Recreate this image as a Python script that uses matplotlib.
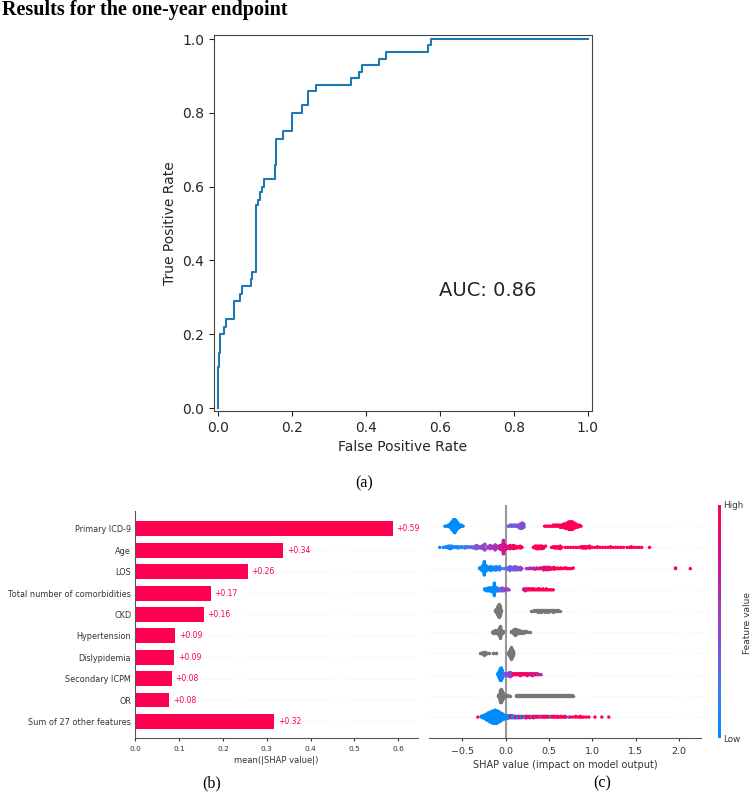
import numpy as np
import matplotlib
matplotlib.use('Agg')
import matplotlib.pyplot as plt
from matplotlib.colors import LinearSegmentedColormap
from matplotlib.cm import ScalarMappable

plt.rcParams['font.family'] = ['DejaVu Sans']
plt.rcParams['text.color'] = '#262626'
plt.rcParams['axes.labelcolor'] = '#262626'
plt.rcParams['xtick.color'] = '#262626'
plt.rcParams['ytick.color'] = '#262626'

# ---- (a) ROC curve (corner points, step 'post')
roc_fpr = [0.0, 0.0, 0.002, 0.005, 0.014, 0.020, 0.043, 0.059, 0.064, 0.088, 0.092,
           0.102, 0.108, 0.112, 0.118, 0.124, 0.153, 0.155, 0.175, 0.200, 0.225,
           0.243, 0.264, 0.360, 0.380, 0.390, 0.435, 0.455, 0.568, 0.575, 1.0]
roc_tpr = [0.0, 0.11, 0.15, 0.20, 0.22, 0.24, 0.29, 0.31, 0.33, 0.35, 0.37,
           0.55, 0.565, 0.585, 0.60, 0.62, 0.66, 0.73, 0.75, 0.80, 0.82,
           0.86, 0.875, 0.895, 0.91, 0.93, 0.945, 0.965, 0.985, 1.0, 1.0]
auc_value = 0.86

# ---- (b) mean |SHAP| per feature
features = ['Primary ICD-9', 'Age', 'LOS', 'Total number of comorbidities', 'CKD',
            'Hypertension', 'Dislypidemia', 'Secondary ICPM', 'OR',
            'Sum of 27 other features']
mean_abs_shap = [0.587, 0.338, 0.256, 0.172, 0.156, 0.091, 0.089, 0.083, 0.077, 0.317]

# ---- (c) beeswarm: (shap value, number of points, feature value 0..1 or None=grey)
swarm_primary_icd9 = [
    (-0.70, 1, 0), (-0.68, 1, 0), (-0.66, 2, 0), (-0.64, 4, 0), (-0.62, 8, 0), (-0.60, 12, 0),
    (-0.585, 13, 0), (-0.57, 10, 0), (-0.55, 6, 0), (-0.53, 3, 0), (-0.51, 2, 0), (-0.49, 1, 0),
    (0.03, 1, 0.35), (0.05, 2, 0.35), (0.07, 2, 0.35), (0.09, 2, 0.35), (0.11, 2, 0.35),
    (0.13, 2, 0.4), (0.15, 3, 0.4), (0.17, 5, 0.4), (0.19, 6, 0.4), (0.21, 4, 0.4),
    (0.45, 1, 1), (0.47, 1, 1), (0.49, 1, 1), (0.51, 1, 1), (0.53, 1, 0.95), (0.55, 2, 1),
    (0.57, 2, 1), (0.59, 2, 1), (0.61, 2, 1), (0.63, 3, 1), (0.65, 3, 1), (0.67, 4, 1),
    (0.69, 5, 1), (0.71, 6, 1), (0.73, 8, 1), (0.75, 8, 1), (0.77, 8, 1), (0.79, 6, 1),
    (0.81, 4, 1), (0.83, 3, 1), (0.85, 2, 1), (0.87, 1, 1)]
swarm_age = [
    (-0.76, 1, 0.05), (-0.72, 1, 0.05), (-0.69, 2, 0.05), (-0.66, 4, 0.05), (-0.64, 5, 0.08),
    (-0.62, 4, 0.08), (-0.59, 2, 0.1), (-0.57, 2, 0.1), (-0.55, 3, 0.12), (-0.52, 2, 0.15),
    (-0.50, 2, 0.15), (-0.47, 3, 0.2), (-0.45, 2, 0.2), (-0.43, 2, 0.25), (-0.40, 2, 0.3),
    (-0.37, 3, 0.35), (-0.34, 6, 0.4), (-0.32, 4, 0.4), (-0.29, 3, 0.45), (-0.26, 6, 0.45),
    (-0.24, 4, 0.5), (-0.21, 3, 0.5), (-0.18, 6, 0.55), (-0.16, 4, 0.55), (-0.14, 3, 0.6),
    (-0.12, 6, 0.6), (-0.10, 4, 0.6), (-0.08, 4, 0.65), (-0.06, 7, 0.7), (-0.04, 9, 0.75),
    (-0.025, 13, 0.75), (-0.01, 9, 0.8), (0.01, 5, 0.85), (0.03, 3, 0.85), (0.05, 3, 0.9),
    (0.07, 4, 0.9), (0.09, 6, 0.9), (0.11, 4, 0.95), (0.13, 3, 0.95), (0.15, 2, 1),
    (0.17, 2, 1), (0.19, 1, 1),
    (0.32, 1, 1), (0.34, 3, 1), (0.36, 5, 1), (0.38, 5, 1), (0.40, 4, 1), (0.42, 5, 1),
    (0.44, 3, 1), (0.46, 1, 1),
    (0.53, 1, 1), (0.55, 2, 1), (0.57, 3, 1), (0.59, 3, 1), (0.61, 3, 1), (0.63, 2, 1),
    (0.65, 1, 1), (0.69, 1, 1), (0.72, 1, 1), (0.75, 1, 1), (0.78, 1, 1), (0.81, 1, 1),
    (0.84, 1, 1), (0.87, 2, 1), (0.89, 3, 1), (0.91, 3, 1), (0.93, 3, 1), (0.95, 2, 1),
    (0.97, 2, 1), (1.00, 1, 1), (1.03, 1, 1), (1.06, 2, 1), (1.09, 1, 1), (1.12, 1, 1),
    (1.15, 1, 1), (1.18, 1, 1), (1.21, 2, 1), (1.24, 1, 1), (1.27, 1, 1), (1.30, 1, 1),
    (1.33, 1, 1), (1.36, 1, 1), (1.40, 1, 1), (1.43, 1, 1), (1.45, 2, 1), (1.48, 1, 1),
    (1.51, 1, 1), (1.54, 1, 1), (1.57, 1, 1), (1.66, 1, 1)]
swarm_los = [
    (-0.30, 2, 0), (-0.28, 5, 0), (-0.26, 10, 0), (-0.245, 12, 0), (-0.23, 10, 0),
    (-0.21, 6, 0), (-0.19, 4, 0), (-0.17, 3, 0), (-0.15, 4, 0.05), (-0.13, 5, 0.05),
    (-0.11, 6, 0.05), (-0.09, 4, 0.1), (-0.07, 2, 0.1), (-0.05, 1, 0.15), (-0.02, 1, 0.2),
    (0.01, 2, 0.3), (0.03, 3, 0.3), (0.05, 4, 0.3), (0.07, 4, 0.35), (0.09, 5, 0.35),
    (0.11, 6, 0.35), (0.13, 5, 0.4), (0.15, 3, 0.4), (0.17, 2, 0.45), (0.19, 1, 0.5),
    (0.24, 1, 0.55), (0.26, 1, 0.6), (0.28, 2, 0.6), (0.30, 1, 0.65), (0.32, 2, 0.65),
    (0.34, 1, 0.7), (0.36, 2, 0.7), (0.38, 1, 0.75), (0.40, 2, 0.75), (0.42, 2, 0.8),
    (0.44, 3, 0.85), (0.46, 4, 0.9), (0.48, 5, 0.9), (0.50, 4, 0.9), (0.52, 3, 0.95),
    (0.54, 2, 0.95), (0.56, 2, 1), (0.58, 1, 1), (0.60, 2, 1), (0.62, 1, 1), (0.64, 2, 1),
    (0.66, 1, 1), (0.68, 1, 1), (0.70, 2, 1), (0.72, 1, 1), (0.74, 1, 1), (0.76, 1, 1),
    (0.78, 1, 1), (1.96, 2, 1), (2.13, 1, 1)]
swarm_comorbidities = [
    (-0.24, 2, 0), (-0.22, 3, 0), (-0.20, 4, 0), (-0.18, 4, 0), (-0.16, 5, 0), (-0.14, 6, 0),
    (-0.13, 14, 0), (-0.12, 6, 0), (-0.10, 4, 0), (-0.08, 3, 0.05), (-0.06, 3, 0.3),
    (-0.04, 4, 0.4), (-0.02, 3, 0.45), (0.00, 2, 0.5), (0.02, 2, 0.5), (0.04, 1, 0.5),
    (0.21, 2, 0.8), (0.23, 3, 0.85), (0.25, 2, 0.85), (0.27, 2, 0.9), (0.29, 2, 0.9),
    (0.31, 2, 0.95), (0.33, 2, 0.95), (0.35, 1, 1), (0.37, 2, 1), (0.39, 2, 1), (0.41, 1, 1),
    (0.43, 2, 1), (0.45, 1, 1), (0.47, 2, 1), (0.49, 1, 1), (0.51, 1, 1), (0.53, 1, 1),
    (0.55, 1, 1)]
swarm_ckd = [
    (-0.12, 2, None), (-0.11, 4, None), (-0.10, 8, None), (-0.09, 12, None), (-0.08, 14, None),
    (-0.07, 10, None), (-0.06, 5, None), (-0.05, 2, None),
    (0.29, 1, None), (0.31, 1, None), (0.33, 2, None), (0.35, 2, None), (0.37, 3, None),
    (0.39, 2, None), (0.41, 3, None), (0.43, 2, None), (0.45, 3, None), (0.47, 2, None),
    (0.49, 3, None), (0.51, 2, None), (0.53, 2, None), (0.55, 3, None), (0.57, 2, None),
    (0.59, 2, None), (0.61, 2, None), (0.63, 1, None)]
swarm_hypertension = [
    (-0.16, 1, None), (-0.14, 3, None), (-0.12, 4, None), (-0.10, 4, None), (-0.09, 5, None),
    (-0.08, 8, None), (-0.07, 14, None), (-0.06, 12, None), (-0.05, 5, None), (-0.04, 3, None),
    (-0.03, 2, None),
    (0.06, 2, None), (0.08, 4, None), (0.10, 6, None), (0.11, 7, None), (0.12, 6, None),
    (0.14, 4, None), (0.16, 4, None), (0.18, 3, None), (0.20, 3, None), (0.22, 2, None),
    (0.24, 2, None), (0.26, 1, None), (0.28, 1, None)]
swarm_dislypidemia = [
    (-0.30, 1, None), (-0.28, 2, None), (-0.26, 4, None), (-0.25, 5, None), (-0.24, 4, None),
    (-0.22, 2, None), (-0.19, 1, None), (-0.15, 2, None), (-0.11, 2, None),
    (0.03, 3, None), (0.04, 6, None), (0.05, 10, None), (0.06, 14, None), (0.07, 10, None),
    (0.08, 6, None), (0.09, 3, None)]
swarm_secondary_icpm = [
    (-0.09, 2, 0), (-0.08, 5, 0), (-0.07, 9, 0), (-0.06, 13, 0), (-0.05, 14, 0), (-0.04, 10, 0),
    (-0.03, 5, 0), (-0.02, 3, 0.3), (-0.01, 2, 0.35), (0.00, 2, 0.4), (0.01, 3, 0.4),
    (0.02, 3, 0.4), (0.03, 3, 0.45), (0.04, 4, 0.45), (0.05, 5, 0.45), (0.06, 5, 0.5),
    (0.07, 3, 0.5),
    (0.09, 2, 0.9), (0.11, 2, 1), (0.13, 2, 0.9), (0.15, 2, 1), (0.17, 3, 1), (0.19, 2, 0.9),
    (0.21, 2, 1), (0.23, 2, 0.8), (0.25, 3, 1), (0.27, 2, 0.7), (0.29, 2, 1), (0.31, 3, 0.9),
    (0.33, 2, 0.6), (0.35, 2, 1), (0.37, 2, 0.6), (0.39, 1, 0.7), (0.41, 1, 0.6)]
swarm_or = [
    (-0.09, 2, None), (-0.08, 5, None), (-0.07, 9, None), (-0.06, 13, None), (-0.05, 14, None),
    (-0.04, 10, None), (-0.03, 6, None), (-0.02, 3, None), (-0.01, 2, None), (0.01, 2, None),
    (0.03, 2, None), (0.05, 1, None),
    (0.12, 2, None), (0.14, 2, None), (0.16, 2, None), (0.18, 2, None), (0.20, 2, None),
    (0.22, 2, None), (0.24, 2, None), (0.26, 2, None), (0.28, 2, None), (0.30, 2, None),
    (0.32, 2, None), (0.34, 2, None), (0.36, 2, None), (0.38, 2, None), (0.40, 2, None),
    (0.42, 2, None), (0.44, 2, None), (0.46, 2, None), (0.48, 2, None), (0.50, 2, None),
    (0.52, 2, None), (0.54, 2, None), (0.56, 2, None), (0.58, 2, None), (0.60, 2, None),
    (0.62, 2, None), (0.64, 2, None), (0.66, 2, None), (0.68, 2, None), (0.70, 2, None),
    (0.72, 2, None), (0.74, 2, None), (0.76, 2, None), (0.78, 1, None)]
swarm_other27 = [
    (-0.32, 1, 1), (-0.28, 2, 0), (-0.26, 4, 0), (-0.24, 6, 0), (-0.22, 9, 0), (-0.20, 12, 0),
    (-0.18, 15, 0), (-0.16, 17, 0), (-0.14, 19, 0), (-0.12, 20, 0), (-0.10, 19, 0),
    (-0.08, 16, 0), (-0.06, 13, 0), (-0.04, 10, 0), (-0.02, 7, 0), (0.00, 5, 0),
    (0.02, 5, 0), (0.04, 4, 0.05), (0.06, 4, 1), (0.08, 4, 0), (0.10, 3, 0.1), (0.12, 3, 1),
    (0.14, 3, 0), (0.16, 3, 0.9), (0.18, 3, 0), (0.20, 2, 1), (0.22, 3, 0.2), (0.24, 3, 1),
    (0.26, 2, 0.85), (0.28, 3, 1), (0.30, 2, 0.1), (0.32, 3, 1), (0.34, 2, 0.8), (0.36, 2, 1),
    (0.38, 2, 1), (0.40, 2, 0.4), (0.42, 2, 1), (0.44, 2, 1), (0.46, 2, 0.9), (0.48, 2, 1),
    (0.50, 2, 1), (0.52, 2, 0.2), (0.54, 2, 1), (0.56, 2, 1), (0.58, 1, 1), (0.60, 2, 1),
    (0.62, 1, 0.9), (0.64, 2, 1), (0.66, 1, 1), (0.68, 2, 1), (0.70, 1, 1), (0.73, 1, 0),
    (0.75, 1, 1), (0.78, 1, 1), (0.81, 2, 1), (0.84, 1, 1), (0.86, 2, 1), (0.88, 1, 1),
    (0.90, 1, 1), (0.93, 1, 1), (0.96, 1, 1), (1.03, 1, 1), (1.11, 1, 1), (1.19, 1, 1)]

swarm_rows = [swarm_primary_icd9, swarm_age, swarm_los, swarm_comorbidities, swarm_ckd,
              swarm_hypertension, swarm_dislypidemia, swarm_secondary_icpm, swarm_or,
              swarm_other27]

shap_red = '#ff0051'
shap_cmap = LinearSegmentedColormap.from_list(
    'red_blue', [(0.0, '#008bfb'), (0.2, '#3c7ff0'), (0.4, '#8050d8'),
                 (0.55, '#a03cc0'), (0.72, '#c81898'), (1.0, '#ff0052')])


def swarm_offsets(x, row_height=0.4, nbins=100):
    # same stacking as the shap beeswarm
    quant = np.round(nbins * (x - x.min()) / (x.max() - x.min() + 1e-8))
    order = np.argsort(quant, kind='stable')
    ys = np.zeros(len(x))
    layer, last = 0, -1
    for i in order:
        if quant[i] != last:
            layer = 0
        ys[i] = np.ceil(layer / 2) * ((layer % 2) * 2 - 1)
        layer += 1
        last = quant[i]
    return ys * 0.9 * (row_height / np.max(ys + 1))


W, H = 750, 793
fig = plt.figure(figsize=(W / 100, H / 100), dpi=100)
fig.set_facecolor('w')

def box(left, top, right, bottom):
    return [left / W, 1 - bottom / H, (right - left) / W, (bottom - top) / H]

fig.text(0.002, 1 - 15.5 / H, 'Results for the one-year endpoint', family='Liberation Serif',
         fontweight='bold', fontsize=14.5, color='k', va='baseline', ha='left')

# ---- ROC
ax_roc = fig.add_axes(box(214, 35, 591.7, 411))
ax_roc.step(roc_fpr, roc_tpr, where='post', color='#1f77b4', lw=1.5)
ax_roc.set_xlim(-0.012, 1.011)
ax_roc.set_ylim(-0.008, 1.011)
ax_roc.set_xticks(np.arange(0, 1.01, 0.2))
ax_roc.set_yticks(np.arange(0, 1.01, 0.2))
ax_roc.tick_params(labelsize=10)
ax_roc.set_xlabel('False Positive Rate', fontsize=10)
ax_roc.set_ylabel('True Positive Rate', fontsize=10)
for sp in ax_roc.spines.values():
    sp.set_color('#444444')
ax_roc.text(0.598, 0.318, 'AUC: %.2f' % auc_value, fontsize=14, va='center', ha='left')
fig.text(364 / W, 1 - 483 / H, '(a)', family='Liberation Serif', fontsize=11.5,
         ha='center', va='center', color='k')

# ---- bar chart
ax_bar = fig.add_axes(box(135.3, 510.7, 418, 738.3))
ypos = np.arange(len(features))[::-1]
ax_bar.barh(ypos, mean_abs_shap, height=0.7, color=shap_red)
for y, v in zip(ypos, mean_abs_shap):
    ax_bar.axhline(y, color='#cccccc', lw=0.5, dashes=(1, 5), zorder=-1)
    ax_bar.text(v + 0.009, y, '+%.2f' % v, color=shap_red, fontsize=5.5, va='center', ha='left')
ax_bar.set_yticks(ypos)
ax_bar.set_yticklabels(features, fontsize=5.9, color='#333333')
ax_bar.set_ylim(-0.79, 9.85)
ax_bar.set_xlim(0, 0.645)
ax_bar.set_xticks(np.arange(0, 0.61, 0.1))
ax_bar.tick_params(axis='x', labelsize=5.3, colors='#333333', length=2)
ax_bar.tick_params(axis='y', length=0, pad=3)
ax_bar.set_xlabel('mean(|SHAP value|)', fontsize=6, color='#333333', labelpad=3)
ax_bar.spines['top'].set_visible(False)
ax_bar.spines['right'].set_visible(False)
ax_bar.spines['left'].set_color('#555555')
ax_bar.spines['bottom'].set_color('#555555')
fig.text(212 / W, 1 - 783 / H, '(b)', family='Liberation Serif', fontsize=11.5,
         ha='center', va='center', color='k')

# ---- beeswarm
ax_sw = fig.add_axes(box(429.3, 505, 700.7, 738.3))
ax_sw.axvline(0, color='#999999', lw=1.5, zorder=-1)
for row, pos in zip(swarm_rows, ypos):
    xs = np.repeat([p[0] for p in row], [p[1] for p in row]).astype(float)
    cs = np.repeat([np.nan if p[2] is None else p[2] for p in row], [p[1] for p in row])
    ys = pos + swarm_offsets(xs)
    ax_sw.axhline(pos, color='#cccccc', lw=0.5, dashes=(1, 5), zorder=-1)
    grey = np.isnan(cs)
    ax_sw.scatter(xs[grey], ys[grey], s=6, color='#777777', linewidth=0, zorder=3)
    ax_sw.scatter(xs[~grey], ys[~grey], s=6, c=cs[~grey], cmap=shap_cmap, vmin=0, vmax=1,
                  linewidth=0, zorder=3)
ax_sw.set_xlim(-0.88, 2.25)
ax_sw.set_ylim(-1, 10)
ax_sw.set_yticks([])
ax_sw.set_xticks([-0.5, 0.0, 0.5, 1.0, 1.5, 2.0])
ax_sw.tick_params(axis='x', labelsize=6.8, colors='#333333', length=2.5)
ax_sw.set_xlabel('SHAP value (impact on model output)', fontsize=7.0, color='#333333',
                 labelpad=3)
for s in ['top', 'right', 'left']:
    ax_sw.spines[s].set_visible(False)
ax_sw.spines['bottom'].set_color('#555555')

cax = fig.add_axes(box(718, 505, 721, 738))
cb = fig.colorbar(ScalarMappable(cmap=shap_cmap, norm=plt.Normalize(0, 1)), cax=cax,
                  ticks=[0, 1])
cb.outline.set_visible(False)
cax.set_yticklabels(['Low', 'High'])
cax.tick_params(length=0, labelsize=6.3, pad=1.5, colors='#333333')
fig.text(747 / W, 1 - 623 / H, 'Feature value', rotation=90, fontsize=6.5, color='#333333',
         ha='center', va='center')
fig.text(602 / W, 1 - 783 / H, '(c)', family='Liberation Serif', fontsize=11.5,
         ha='center', va='center', color='k')

fig.savefig('out.png', dpi=100, facecolor='w')
